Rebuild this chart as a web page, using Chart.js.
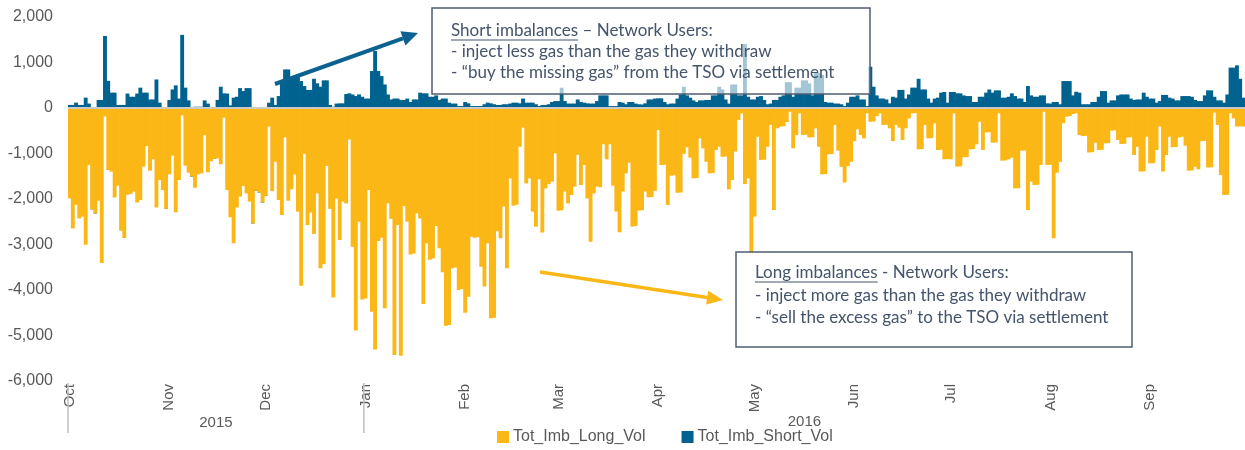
<!DOCTYPE html>
<html>
<head>
<meta charset="utf-8">
<title>Imbalance volumes</title>
<script src="https://cdn.jsdelivr.net/npm/chart.js@4.4.1/dist/chart.umd.min.js"></script>
<style>
  html, body { margin: 0; padding: 0; background: #fff; }
  #wrap { width: 1245px; height: 450px; }
</style>
</head>
<body>
<div id="wrap"><canvas id="imbChart" width="1245" height="450"></canvas></div>
<script>
// months of the gas year 2015/16 (Oct 2015 - Sep 2016)
const monthNames = ["Oct", "Nov", "Dec", "Jan", "Feb", "Mar", "Apr", "May", "Jun", "Jul", "Aug", "Sep"];
const monthDays = [31, 30, 31, 31, 29, 31, 30, 31, 30, 31, 31, 30];
const yearLabels = ["2015", "2016"];
const yTicks = [2000, 1000, 0, -1000, -2000, -3000, -4000, -5000, -6000];

// Tot_Imb_Long_Vol, daily
const longOct = [-1980,-2640,-2120,-2420,-2380,-3000,-1245,-2220,-2310,-2030,-3400,-180,-1355,-1390,-1960,-1700,-2690,-2850,-1900,-1880,-1830,-2070,-2015,-1280,-830,-1370,-1120,-2180,-1575,-1795,-2210];
const longNov = [-1450,-1040,-2285,-1575,-155,-1260,-1415,-1500,-1745,-1450,-1430,-590,-1405,-1160,-1110,-1100,-1230,-205,-1795,-2395,-2967,-2180,-1940,-1705,-1870,-2050,-2530,-1810,-1850,-2070];
const longDec = [-1925,-400,-1820,-1175,-2015,-2345,-640,-2030,-1780,-1450,-2270,-3900,-1000,-2565,-2290,-2760,-1870,-3515,-3420,-1265,-2210,-4155,-1980,-2895,-2050,-2090,-685,-3040,-4885,-2490,-4200];
const longJan = [-4180,-1795,-4470,-5300,-2915,-2845,-4395,-2090,-2430,-5420,-2565,-5440,-2150,-2490,-3210,-3190,-2310,-2420,-4300,-2967,-3330,-3300,-2585,-3075,-3605,-4780,-4760,-3515,-3500,-3990,-3970];
const longFeb = [-4490,-4140,-2825,-2845,-2830,-3480,-3915,-2967,-4615,-4600,-2700,-2855,-2160,-3515,-1540,-2140,-2120,-845,-425,-1650,-1540,-2270,-2600,-1560,-2730,-1760,-1665,-1610,-990];
const longMar = [-2250,-2240,-1830,-2090,-1905,-1720,-1025,-1685,-1245,-1980,-2930,-1870,-1720,-1735,-790,-1120,-790,-1700,-2270,-2725,-1830,-1430,-1195,-2600,-2585,-2245,-2240,-1830,-1955,-1950,-1815];
const longApr = [-475,-1245,-1240,-2125,-1480,-1470,-1855,-1850,-1000,-855,-1085,-1540,-1530,-660,-880,-1175,-1430,-1420,-915,-845,-1065,-1060,-1780,-1575,-950,-255,-110,-1665,-1540,-3185];
const longMay = [-2380,-625,-1135,-1130,-845,-365,-2235,-440,-400,-395,-300,-75,-880,-585,-110,-585,-580,-640,-635,-440,-845,-1450,-1445,-1010,-1005,-365,-930,-1285,-1630,-1270,-1175];
const longJun = [-720,-460,-585,-660,-110,-295,-290,-170,-110,-365,-360,-440,-720,-365,-425,-695,-440,-220,-110,-105,-900,-895,-365,-660,-655,-330,-915,-910,-1120,-1115];
const longJul = [-1120,-110,-1280,-1275,-1075,-1070,-900,-895,-790,-295,-915,-530,-525,-755,-750,-110,-1150,-1145,-1120,-1085,-1760,-1755,-930,-925,-2235,-1610,-1685,-1680,-1245,-75,-1245];
const longAug = [-1240,-2855,-1415,-1175,-330,-185,-170,-125,-110,-585,-610,-605,-970,-965,-755,-915,-910,-770,-765,-490,-485,-695,-785,-780,-640,-635,-1025,-845,-1390,-1385,-625];
const longSep = [-1210,-1205,-915,-400,-1390,-1025,-625,-855,-850,-640,-625,-820,-1370,-1365,-1285,-1340,-720,-715,-1300,-1295,-95,-365,-1465,-1905,-1900,-110,-220,-400,-395,-400];

// Tot_Imb_Short_Vol, daily
const shortOct = [60,60,110,60,60,220,90,0,0,170,170,1575,590,330,330,60,60,60,310,240,240,310,440,330,330,180,180,620,110,0,0];
const shortNov = [170,400,490,200,1600,440,160,0,20,20,20,160,90,0,0,170,460,315,310,50,220,240,430,365,430,430,0,0,0,0];
const shortDec = [0,110,220,60,255,565,840,840,660,660,695,585,475,390,390,635,535,460,600,600,60,20,90,95,95,300,315,290,255,290,240];
const shortJan = [200,200,805,1245,805,695,510,290,180,200,200,170,170,200,125,180,180,330,315,315,240,240,270,170,200,200,110,90,90,35,35];
const shortFeb = [125,95,35,35,35,35,75,110,95,75,60,60,75,75,90,110,110,95,200,110,110,110,75,35,60,60,75,125,145];
const shortMar = [145,440,145,90,90,90,180,125,110,95,90,90,145,270,270,270,35,35,35,125,110,75,125,125,90,75,70,95,180,180,200];
const shortApr = [205,205,125,75,90,90,200,290,460,270,220,160,125,160,160,170,170,270,270,460,400,180,90,510,510,270,270,1400,240,180];
const shortMay = [180,240,255,170,75,90,170,170,240,270,560,560,240,440,440,600,600,535,270,760,760,720,125,110,110,90,90,75,35,110,240];
const shortJun = [240,270,180,180,35,900,460,270,200,200,180,95,240,220,390,390,200,290,440,440,635,400,400,200,110,200,220,330,345,110];
const shortJul = [345,345,315,315,270,255,255,125,125,240,240,330,400,330,380,380,220,220,240,315,255,200,200,125,475,270,240,240,270,270,95];
const shortAug = [90,125,125,75,585,585,585,270,350,330,75,75,75,125,125,240,365,365,110,160,160,270,290,290,290,200,170,180,180,330,240];
const shortSep = [200,200,110,145,280,280,220,200,160,160,255,255,255,240,170,145,145,270,380,380,240,160,160,110,290,880,880,930,635,220];

const longVol = [].concat(longOct, longNov, longDec, longJan, longFeb, longMar, longApr, longMay, longJun, longJul, longAug, longSep);
const shortVol = [].concat(shortOct, shortNov, shortDec, shortJan, shortFeb, shortMar, shortApr, shortMay, shortJun, shortJul, shortAug, shortSep);

// one category per day, tick text only on the 1st of each month
const labels = [];
const tickText = [];
const monthStart = [];
monthNames.forEach((m, i) => {
  monthStart.push(labels.length);
  for (let d = 1; d <= monthDays[i]; d++) {
    labels.push(m + " " + d);
    tickText.push(d === 1 ? m : "");
  }
});

const YELLOW = "#fbb716";
const BLUE = "#00628f";
const TEXT = "#595959";
const NOTE = "#44546a";

function drawArrow(ctx, x1, y1, x2, y2, color, width, headLen, headW) {
  const a = Math.atan2(y2 - y1, x2 - x1);
  const bx = x2 - headLen * Math.cos(a);
  const by = y2 - headLen * Math.sin(a);
  ctx.strokeStyle = color;
  ctx.lineWidth = width;
  ctx.beginPath();
  ctx.moveTo(x1, y1);
  ctx.lineTo(bx, by);
  ctx.stroke();
  ctx.fillStyle = color;
  ctx.beginPath();
  ctx.moveTo(x2, y2);
  ctx.lineTo(bx + (headW / 2) * Math.sin(a), by - (headW / 2) * Math.cos(a));
  ctx.lineTo(bx - (headW / 2) * Math.sin(a), by + (headW / 2) * Math.cos(a));
  ctx.closePath();
  ctx.fill();
}

function drawNote(ctx, box, lines) {
  ctx.fillStyle = "rgba(255,255,255,0.64)";
  ctx.fillRect(box.x, box.y, box.w, box.h);
  ctx.strokeStyle = "#4f5d72";
  ctx.lineWidth = 1.5;
  ctx.strokeRect(box.x, box.y, box.w, box.h);
  ctx.font = "17px Lato, 'Open Sans', sans-serif";
  ctx.textBaseline = "middle";
  ctx.textAlign = "left";
  ctx.fillStyle = NOTE;
  lines.forEach((segs, i) => {
    let tx = box.tx;
    const ty = box.ty[i];
    segs.forEach((s) => {
      ctx.fillText(s.t, tx, ty);
      const w = ctx.measureText(s.t).width;
      if (s.u) {
        ctx.strokeStyle = NOTE;
        ctx.lineWidth = 1;
        ctx.beginPath();
        ctx.moveTo(tx, ty + 9);
        ctx.lineTo(tx + w, ty + 9);
        ctx.stroke();
      }
      tx += w;
    });
  });
}

const extrasPlugin = {
  id: "imbExtras",
  afterDatasetsDraw(chart) {
    const { ctx, chartArea, scales } = chart;
    const y0 = scales.y.getPixelForValue(0);
    ctx.save();
    // zero line
    ctx.strokeStyle = "#c9c9c9";
    ctx.lineWidth = 2;
    ctx.beginPath();
    ctx.moveTo(chartArea.left, y0);
    ctx.lineTo(chartArea.right, y0);
    ctx.stroke();

    // arrows
    drawArrow(ctx, 275, 84, 418, 33, "#0b6290", 4, 16, 15);
    drawArrow(ctx, 540, 272, 723, 300, YELLOW, 3.5, 16, 14);

    // notes
    drawNote(ctx, { x: 432, y: 8, w: 438, h: 86, tx: 451, ty: [31, 52, 73] }, [
      [{ t: "Short imbalances", u: true }, { t: " \u2013 Network Users:" }],
      [{ t: "- inject less gas than the gas they withdraw" }],
      [{ t: "- \u201cbuy the missing gas\u201d from the TSO via settlement" }],
    ]);
    drawNote(ctx, { x: 736, y: 252, w: 396, h: 95, tx: 755, ty: [273, 296, 318] }, [
      [{ t: "Long imbalances", u: true }, { t: " - Network Users:" }],
      [{ t: "- inject more gas than the gas they withdraw" }],
      [{ t: "- \u201csell the excess gas\u201d to the TSO via settlement" }],
    ]);
    ctx.restore();
  },
  afterDraw(chart) {
    const { ctx, chartArea, scales } = chart;
    const x = scales.x;
    const half = (x.getPixelForValue(1) - x.getPixelForValue(0)) / 2;
    const xOct = x.getPixelForValue(monthStart[0]) - half;
    const xJan = x.getPixelForValue(monthStart[3]) - half;
    ctx.save();
    // year separators
    ctx.strokeStyle = "#bfbfbf";
    ctx.lineWidth = 1.5;
    [xOct, xJan].forEach((px) => {
      ctx.beginPath();
      ctx.moveTo(px, chartArea.bottom + 2);
      ctx.lineTo(px, chartArea.bottom + 52);
      ctx.stroke();
    });
    ctx.fillStyle = TEXT;
    ctx.font = "15px 'Liberation Sans', Arial, sans-serif";
    ctx.textAlign = "center";
    ctx.textBaseline = "middle";
    ctx.fillText(yearLabels[0], (xOct + xJan) / 2, chartArea.bottom + 42);
    ctx.fillText(yearLabels[1], (xJan + chartArea.right) / 2, chartArea.bottom + 41);

    // legend
    ctx.font = "16px 'Liberation Sans', Arial, sans-serif";
    ctx.textAlign = "left";
    const items = [
      { label: "Tot_Imb_Long_Vol", color: YELLOW },
      { label: "Tot_Imb_Short_Vol", color: BLUE },
    ];
    let lx = 497;
    const ly = 437;
    items.forEach((it) => {
      ctx.fillStyle = it.color;
      ctx.fillRect(lx, ly - 6, 12, 12);
      ctx.fillStyle = TEXT;
      ctx.fillText(it.label, lx + 16, ly);
      lx += 16 + ctx.measureText(it.label).width + 36;
    });
    ctx.restore();
  },
};

Chart.defaults.font.family = "'Liberation Sans', Arial, sans-serif";
Chart.defaults.color = TEXT;

const ctx = document.getElementById("imbChart").getContext("2d");
new Chart(ctx, {
  type: "bar",
  data: {
    labels: labels,
    datasets: [
      {
        label: "Tot_Imb_Long_Vol",
        data: longVol,
        backgroundColor: YELLOW,
        borderWidth: 0,
        barPercentage: 1,
        categoryPercentage: 1,
      },
      {
        label: "Tot_Imb_Short_Vol",
        data: shortVol,
        backgroundColor: BLUE,
        borderWidth: 0,
        barPercentage: 1,
        categoryPercentage: 1,
      },
    ],
  },
  options: {
    responsive: false,
    animation: false,
    layout: { padding: { top: 17, right: 0, left: 0, bottom: 0 } },
    plugins: {
      legend: { display: false },
      tooltip: { enabled: false },
    },
    scales: {
      x: {
        stacked: true,
        grid: { display: false, drawTicks: false },
        border: { display: false },
        ticks: {
          autoSkip: false,
          minRotation: 90,
          maxRotation: 90,
          padding: 3,
          font: { size: 15 },
          color: TEXT,
          callback: (value, index) => tickText[index],
        },
        afterFit: (scale) => {
          scale.height = 69;
          scale.paddingLeft = 0;
          scale.paddingRight = 0;
          scale.paddingTop = 0;
          scale.paddingBottom = 0;
        },
      },
      y: {
        stacked: true,
        min: -6000,
        max: 2000,
        grid: { display: false, drawTicks: false },
        border: { display: false },
        afterBuildTicks: (scale) => { scale.ticks = yTicks.map((v) => ({ value: v })); },
        ticks: {
          padding: 15,
          font: { size: 16 },
          color: TEXT,
          callback: (v) => v.toLocaleString("en-US"),
        },
        afterFit: (scale) => {
          scale.width = 68;
          scale.paddingTop = 0;
          scale.paddingBottom = 0;
        },
      },
    },
  },
  plugins: [extrasPlugin],
});
</script>
</body>
</html>
